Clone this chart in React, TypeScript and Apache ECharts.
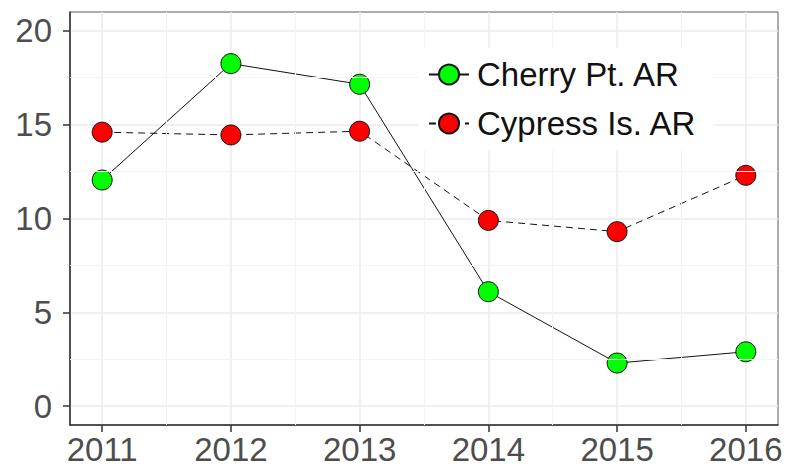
import React, { useEffect, useRef } from "react";
import * as echarts from "echarts";

const years = [2011, 2012, 2013, 2014, 2015, 2016];
const cherry = [12.05, 18.25, 17.15, 6.1, 2.3, 2.9];
const cypress = [14.6, 14.45, 14.65, 9.9, 9.3, 12.3];
const yTicks = [0, 5, 10, 15, 20];
const yMinor = [2.5, 7.5, 12.5, 17.5];
const xMinor = [2011.5, 2012.5, 2013.5, 2014.5, 2015.5];
const seriesNames = ["Cherry Pt. AR", "Cypress Is. AR"];

export default function App() {
  const ref = useRef<HTMLDivElement>(null);
  useEffect(() => {
    if (!ref.current) return;
    const chart = echarts.init(ref.current, undefined, { renderer: "svg" });
    const font = "Liberation Sans, Arial, sans-serif";
    const minorLine = {
      silent: true,
      symbol: ["none", "none"],
      label: { show: false },
      lineStyle: { color: "#f4f4f4", width: 1, type: "solid" as const },
      emphasis: { disabled: true },
      data: [
        ...xMinor.map((v) => ({ xAxis: v })),
        ...yMinor.map((v) => ({ yAxis: v })),
      ],
    };
    chart.setOption({
      animation: false,
      backgroundColor: "#ffffff",
      grid: {
        left: 70,
        top: 12,
        right: 19,
        bottom: 43,
        show: true,
        borderColor: "#5a5a5a",
        borderWidth: 1,
        backgroundColor: "#ffffff",
      },
      legend: {
        show: true,
        orient: "vertical",
        left: 418,
        top: 48,
        z: 10,
        padding: [10, 16, 10, 10],
        backgroundColor: "#ffffff",
        itemWidth: 40,
        itemHeight: 25,
        itemGap: 16,
        data: seriesNames,
        textStyle: {
          fontFamily: font,
          fontSize: 33,
          color: "#111111",
          padding: [0, 0, 0, 3],
        },
      },
      xAxis: {
        type: "value",
        min: 2010.75,
        max: 2016.25,
        axisLine: { show: true, onZero: false, lineStyle: { color: "#333333", width: 1.5 } },
        axisTick: { show: true, length: 7, customValues: years, lineStyle: { color: "#333333", width: 1.5 } },
        axisLabel: {
          customValues: years,
          fontFamily: font,
          fontSize: 33,
          lineHeight: 33,
          color: "#4d4d4d",
          margin: 8,
          formatter: (v: number) => String(v),
        },
        splitLine: { show: true, lineStyle: { color: "#ebebeb", width: 1.5 } },
      },
      yAxis: {
        type: "value",
        min: -1,
        max: 21,
        axisLine: { show: true, onZero: false, lineStyle: { color: "#333333", width: 1.5 } },
        axisTick: { show: true, length: 7, customValues: yTicks, lineStyle: { color: "#333333", width: 1.5 } },
        axisLabel: {
          customValues: yTicks,
          fontFamily: font,
          fontSize: 33,
          color: "#4d4d4d",
          margin: 18,
        },
        splitLine: { show: true, lineStyle: { color: "#ebebeb", width: 1.5 } },
      },
      series: [
        {
          name: seriesNames[0],
          type: "line",
          data: years.map((y, i) => [y, cherry[i]]),
          symbol: "circle",
          symbolSize: 20,
          z: 3,
          lineStyle: { color: "#111111", width: 1, type: "solid" },
          itemStyle: { color: "#00ff00", borderColor: "#111111", borderWidth: 1 },
          markLine: minorLine,
        },
        {
          name: seriesNames[1],
          type: "line",
          data: years.map((y, i) => [y, cypress[i]]),
          symbol: "circle",
          symbolSize: 20,
          z: 2,
          lineStyle: { color: "#111111", width: 1, type: [7, 5] },
          itemStyle: { color: "#ff0000", borderColor: "#111111", borderWidth: 1 },
        },
      ],
    });
    return () => chart.dispose();
  }, []);
  return (
    <div
      ref={ref}
      style={{ position: "fixed", left: 0, top: 0, width: 797, height: 468 }}
    />
  );
}
